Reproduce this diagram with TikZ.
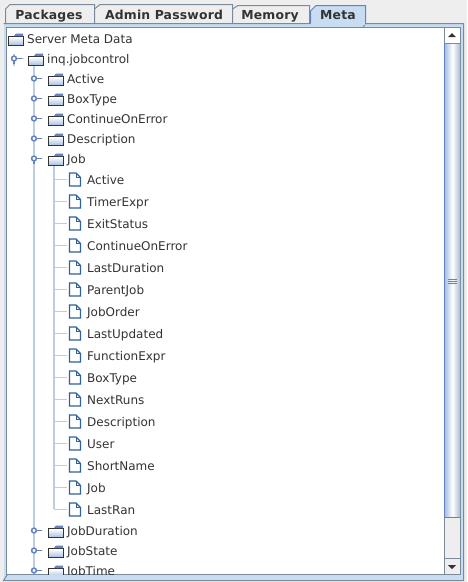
\documentclass[tikz,border=0pt]{standalone}
\usepackage{fontspec}
\setmainfont{DejaVu Sans}
\definecolor{bgc}{HTML}{EEEEEE}
\definecolor{lineb}{HTML}{7A8A99}
\definecolor{paneb}{HTML}{C8DDF2}
\definecolor{tabsel}{HTML}{C8DDF2}
\definecolor{tabline}{HTML}{6382BF}
\definecolor{treel}{HTML}{B8CFE5}
\definecolor{handle}{HTML}{6382BF}
\definecolor{txt}{HTML}{333333}
\definecolor{docb}{HTML}{2E6299}
\usetikzlibrary{shadings}
\tikzset{
  x=1pt,y=-1pt,
  rowtext/.style={anchor=base west,inner sep=0pt,font=\fontsize{12}{14}\selectfont,text=txt},
  tabtext/.style={anchor=base,inner sep=0pt,font=\bfseries\fontsize{12.4}{14}\selectfont\addfontfeature{LetterSpace=1.5},text=txt},
  branch/.style={draw=treel,line width=1.1pt},
  tabbox/.style={draw=lineb,line width=1pt,fill=bgc},
}
\newcommand{\folder}[4]{% name, x, y(centre), text
  \coordinate (#1i) at (#2-2,#3);
  \path[top color=white,bottom color=paneb!70!tabline] (#2-18,#3-2) rectangle (#2-3,#3+6);
  \draw[txt,line width=1pt] (#2-18.5,#3-3) rectangle (#2-3.5,#3+6.5);
  \fill[tabline] (#2-11,#3-5.5) -- (#2-4,#3-5.5) -- (#2-4,#3-3) -- (#2-13,#3-3) -- cycle;
  \node[rowtext] (#1) at (#2,#3+4.4) {#4};
}
\newcommand{\leafrow}[3]{% name, y(centre), text
  \draw[docb,line width=1.2pt,fill=white] (69.5,#2-6.5) -- (76,#2-6.5) -- (80.5,#2-2) -- (80.5,#2+6.5) -- (69.5,#2+6.5) -- cycle;
  \draw[docb,line width=.7pt] (76,#2-6.5) -- (76,#2-2) -- (80.5,#2-2);
  \node[rowtext] (#1) at (87,#2+4.9) {#3};
  \coordinate (#1b) at (54,#2);
  \coordinate (#1i) at (67,#2);
  \draw[branch] (#1b) -- (#1i);
}
\newcommand{\knob}[2]{% at x,y
  \draw[handle,line width=1.2pt] (#1+2,#2) -- (#1+8,#2);
  \draw[handle,line width=1.5pt,fill=white] (#1,#2) circle (2.4);
}
\begin{document}
\begin{tikzpicture}
\useasboundingbox (0,0) rectangle (467,582);
\fill[bgc] (0,0) rectangle (467,582);
% tabs
\draw[tabbox] (5.5,23) -- (5.5,9) -- (10,4.5) -- (94.5,4.5) -- (94.5,23);
\draw[tabbox] (94.5,23) -- (94.5,9) -- (100,4.5) -- (232.5,4.5) -- (232.5,23);
\draw[tabbox] (232.5,23) -- (232.5,9) -- (238,5.5) -- (309.5,5.5) -- (309.5,23);
\draw[draw=tabline,line width=1pt,fill=tabsel] (310.5,24) -- (310.5,11) -- (316,5.5) -- (365.5,5.5) -- (365.5,24);
\node[tabtext] (tabA) at (49,19) {Packages};
\node[tabtext] (tabB) at (164,19) {Admin Password};
\node[tabtext] (tabC) at (270,19) {Memory};
\node[tabtext] (tabD) at (338,19) {Meta};
% pane
\fill[paneb] (3.5,23.5) rectangle (463.5,580.5);
\draw[lineb,line width=1pt] (3.5,23.5) -- (310.5,23.5) (365.5,23.5) -- (463.5,23.5) -- (463.5,580.5) -- (3.5,580.5) -- cycle;
\fill[tabsel] (311,22) rectangle (365,24.5);
\draw[lineb,line width=1pt,fill=white] (6.5,27.5) rectangle (460.5,574.5);
% scrollbar
\fill[bgc] (444.5,28) rectangle (460,574);
\draw[lineb,line width=1pt] (444.5,27.5) -- (444.5,574.5);
\shade[left color=paneb!70!tabline,right color=paneb!85!black,middle color=white] (445,44) rectangle (460,517);
\draw[tabline,line width=1.2pt] (444.5,44) -- (444.5,517.5) -- (460,517.5);
\fill[white] (445,28) rectangle (460,43);
\draw[lineb,line width=.8pt] (445,43.5) -- (460,43.5);
\fill[txt] (448,37) -- (456,37) -- (452,33) -- cycle;
\draw[lineb,line width=.8pt] (445,558.5) -- (460,558.5);
\fill[txt] (448,565) -- (456,565) -- (452,569) -- cycle;
\draw[tabline,line width=1pt] (448,279.5) -- (457,279.5) (448,281.5) -- (457,281.5) (448,283.5) -- (457,283.5);
% tree
\begin{scope}
\clip (7,28) rectangle (444,574);
\draw[branch] (34,65) -- (34,574);
\draw[branch] (54,165) -- (54,509);
\draw[branch] (14,54) -- (14,66);
\draw[branch] (14,58.5) -- (24,58.5);
\folder{root}{27}{39}{Server Meta Data}
\folder{inq}{47}{59}{inq.jobcontrol}
\folder{fa}{67}{79}{Active}
\folder{fb}{67}{99}{BoxType}
\folder{fc}{67}{119}{ContinueOnError}
\folder{fd}{67}{139}{Description}
\folder{fj}{67}{159}{Job}
\folder{fe}{67}{531}{JobDuration}
\folder{ff}{67}{551}{JobState}
\folder{fg}{67}{571}{JobTime}
\knob{14}{58.5}
\foreach \yy in {78.5,98.5,118.5,138.5,158.5,530.5,550.5,570.5}{\knob{34}{\yy}}
\draw[handle,line width=1.3pt] (14,60.5) -- (14,64);
\draw[handle,line width=1.3pt] (34,160.5) -- (34,164);
\leafrow{l1}{179.5}{Active}
\leafrow{l2}{201.5}{TimerExpr}
\leafrow{l3}{223.5}{ExitStatus}
\leafrow{l4}{245.5}{ContinueOnError}
\leafrow{l5}{267.5}{LastDuration}
\leafrow{l6}{289.5}{ParentJob}
\leafrow{l7}{311.5}{JobOrder}
\leafrow{l8}{333.5}{LastUpdated}
\leafrow{l9}{355.5}{FunctionExpr}
\leafrow{l10}{377.5}{BoxType}
\leafrow{l11}{399.5}{NextRuns}
\leafrow{l12}{421.5}{Description}
\leafrow{l13}{443.5}{User}
\leafrow{l14}{465.5}{ShortName}
\leafrow{l15}{487.5}{Job}
\leafrow{l16}{509.5}{LastRan}
\end{scope}
\end{tikzpicture}
\end{document}
